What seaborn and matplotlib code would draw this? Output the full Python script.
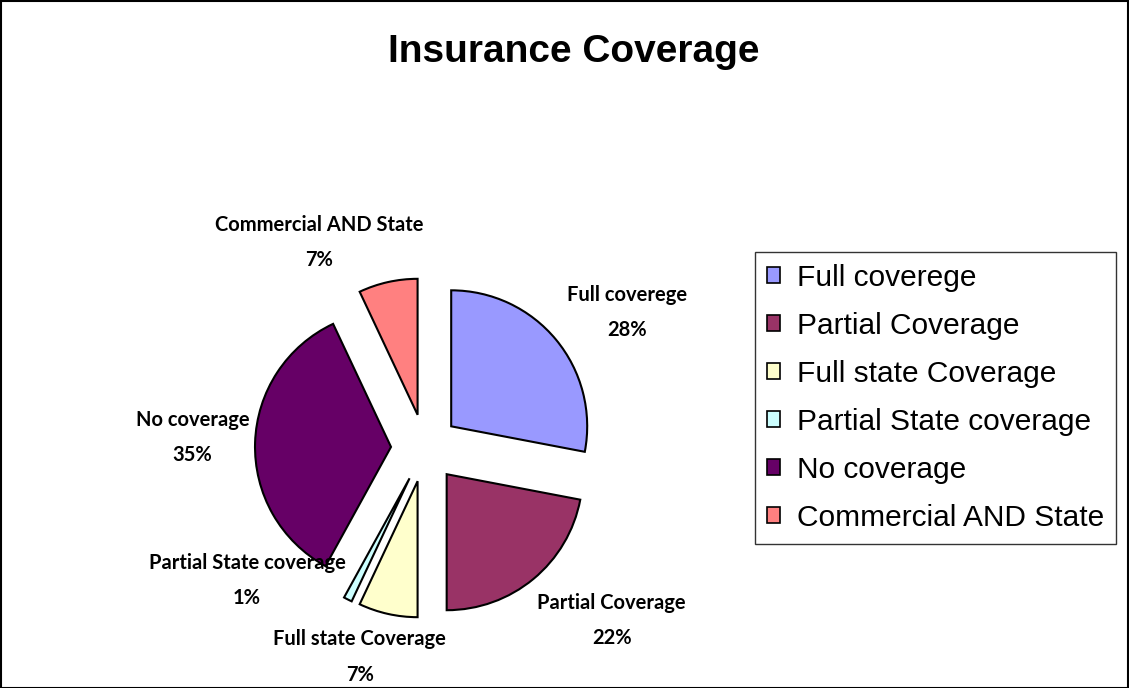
import numpy as np
import pandas as pd
import seaborn as sns
import matplotlib
matplotlib.use("Agg")
import matplotlib.pyplot as plt
from matplotlib.patches import Rectangle

# ---- data ----
categories = ["Full coverege", "Partial Coverage", "Full state Coverage",
              "Partial State coverage", "No coverage", "Commercial AND State"]
values = [28, 22, 7, 1, 35, 7]
title = "Insurance Coverage"

# ---- style ----
colors = ["#9999FF", "#993366", "#FFFFCC", "#CCFFFF", "#660066", "#FF8080"]
# label placement (radius in pie-radius units, angle in degrees)
label_r = [1.79, 1.87, 1.61, 1.63, 1.71, 1.70]
label_ang = [33.8, -42.8, -107.3, -143.4, 177.5, 117.3]

sns.set_theme(style="white")
plt.rcParams['font.family'] = ['Liberation Sans', 'DejaVu Sans']
plt.rcParams['text.color'] = 'black'

W, H = 1129, 688
fig = plt.figure(figsize=(W / 100, H / 100), dpi=100)
fig.patch.set_facecolor("white")

# pie centre / radius in pixels
cx, cy, R = 425, 448, 136
hw, hh = 300, 235
ax = fig.add_axes([(cx - hw) / W, (H - (cy + hh)) / H, 2 * hw / W, 2 * hh / H])
ax.axis("off")

df = pd.DataFrame({"category": categories, "value": values})
wedges, _ = ax.pie(df["value"], colors=colors, startangle=90, counterclock=False,
                   explode=[0.25] * len(values), radius=1.0,
                   wedgeprops=dict(edgecolor="black", linewidth=1.5))
ax.set_xlim(-hw / R, hw / R)
ax.set_ylim(-hh / R, hh / R)
ax.set_aspect("equal")

total = sum(values)
for cat, v, r, a in zip(categories, values, label_r, label_ang):
    x = r * np.cos(np.radians(a))
    y = r * np.sin(np.radians(a))
    ax.text(x, y, f"{cat}\n{round(100 * v / total)}%", ha="center", va="center",
            fontsize=14.5, fontweight="bold", family=["Lato", "DejaVu Sans"],
            linespacing=1.95, color="black")

fig.text(574 / W, 1 - 52 / H, title, ha="center", va="center",
         fontsize=28, fontweight="bold", color="black")

leg = fig.legend(wedges, categories, loc="upper left",
                 bbox_to_anchor=(755 / W, 1 - 252 / H),
                 frameon=True, fancybox=False, fontsize=21.5,
                 handlelength=0.45, handleheight=0.45, handletextpad=0.55,
                 labelspacing=0.67, borderpad=0.40, borderaxespad=0)
leg.get_frame().set_edgecolor("black")
leg.get_frame().set_linewidth(1.0)
for t in leg.get_texts():
    t.set_color("black")
for h in leg.legend_handles:
    h.set_linewidth(1.2)

fig.add_artist(Rectangle((0.5 / W, 0.5 / H), 1 - 1.5 / W, 1 - 1.5 / H,
                         transform=fig.transFigure, fill=False,
                         edgecolor="black", linewidth=1.5))

fig.savefig("out.png", dpi=100)
